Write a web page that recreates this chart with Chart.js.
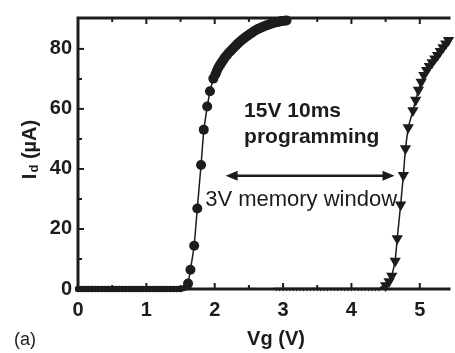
<!DOCTYPE html>
<html>
<head>
<meta charset="utf-8">
<script src="https://cdn.jsdelivr.net/npm/chart.js@4.4.1/dist/chart.umd.min.js"></script>
<style>
  html, body { margin: 0; padding: 0; background: #fff; }
</style>
</head>
<body>
<canvas id="chart" width="455" height="353"></canvas>
<script>
// erased sweep (circles)
const erasedVg = [0.00, 0.05, 0.10, 0.15, 0.20, 0.25, 0.30, 0.35, 0.40, 0.45, 0.50, 0.55, 0.60, 0.65, 0.70, 0.75,
    0.80, 0.85, 0.90, 0.95, 1.00, 1.05, 1.10, 1.15, 1.20, 1.25, 1.30, 1.35, 1.40, 1.45, 1.50, 1.55,
    1.61, 1.645, 1.70, 1.745, 1.80, 1.84, 1.89, 1.93, 1.98,
    2.01, 2.03, 2.05, 2.07, 2.09, 2.11, 2.13, 2.15, 2.18, 2.21, 2.24, 2.27, 2.30, 2.33, 2.36, 2.39,
    2.42, 2.45, 2.48, 2.51, 2.54, 2.57, 2.60, 2.63, 2.66, 2.69, 2.72, 2.75, 2.78, 2.81, 2.84, 2.87,
    2.90, 2.93, 2.96, 2.99, 3.02, 3.05];
const erasedId = [0, 0, 0, 0, 0, 0, 0, 0, 0, 0, 0, 0, 0, 0, 0, 0,
    0, 0, 0, 0, 0, 0, 0, 0, 0, 0, 0, 0, 0, 0, 0, 0.3,
    1.8, 6.4, 14.4, 26.8, 41.3, 53.1, 60.8, 65.9, 70.1,
    71.5, 72.6, 73.6, 74.4, 75.1, 75.8, 76.5, 77.2, 78.0, 78.8, 79.5, 80.2, 80.9, 81.6, 82.2, 82.8,
    83.4, 83.9, 84.4, 84.9, 85.3, 85.8, 86.2, 86.6, 86.9, 87.2, 87.5, 87.8, 88.0, 88.3, 88.5, 88.7,
    88.9, 89.0, 89.2, 89.3, 89.4, 89.5];

// after 15V 10ms programming (triangles)
const progVg = [2.90, 2.95, 3.00, 3.05, 3.10, 3.15, 3.20, 3.25, 3.30, 3.35, 3.40, 3.45, 3.50, 3.55, 3.60,
    3.65, 3.70, 3.75, 3.80, 3.85, 3.90, 3.95, 4.00, 4.05, 4.10, 4.15, 4.20, 4.25, 4.30, 4.35, 4.40,
    4.45, 4.50, 4.55, 4.59, 4.64, 4.67, 4.72, 4.76, 4.79, 4.83,
    4.90, 4.94, 4.98, 5.02, 5.06, 5.10, 5.14, 5.18, 5.22, 5.26, 5.30, 5.34, 5.38, 5.42];
const progId = [0, 0, 0, 0, 0, 0, 0, 0, 0, 0, 0, 0, 0, 0, 0,
    0, 0, 0, 0, 0, 0, 0, 0, 0, 0, 0, 0, 0, 0, 0, 0,
    0.5, 1.2, 2.5, 4.3, 9.3, 16.8, 28.1, 37.9, 46.8, 53.8,
    59.5, 63.0, 66.3, 69.0, 71.2, 72.9, 74.2, 75.5, 76.7, 77.9, 79.2, 80.5, 81.7, 82.9];

// axis ticks
const xTickValues = [0, 1, 2, 3, 4, 5];
const xMinorValues = [0.5, 1.5, 2.5, 3.5, 4.5];
const yTickValues = [0, 20, 40, 60, 80];
const yMinorValues = [10, 30, 50, 70];

// annotation text and where it sits (data units)
const noteTitle = ['15V 10ms', 'programming'];
const noteTitlePos = [[2.43, 57.2], [2.43, 48.6]];
const windowLabel = '3V memory window';
const windowLabelPos = [1.86, 27.7];
const arrowFrom = [2.16, 37.7];
const arrowTo = [4.63, 37.7];

const FONT = "'Liberation Sans', Arial, Helvetica, sans-serif";
const INK = '#1c1c1c';

function toPoints(xs, ys) {
    return xs.map((v, i) => ({x: v, y: ys[i]}));
}

// frame, inward ticks, annotations, axis titles
const decorPlugin = {
    id: 'decor',
    beforeDatasetsDraw(chart) {
        const ctx = chart.ctx;
        const a = chart.chartArea;
        const x = chart.scales.x, y = chart.scales.y;
        ctx.save();
        ctx.strokeStyle = INK;
        ctx.lineWidth = 3;
        ctx.beginPath();
        ctx.moveTo(a.right + 2, a.top);
        ctx.lineTo(a.left, a.top);
        ctx.lineTo(a.left, a.bottom);
        ctx.lineTo(a.right + 2, a.bottom);
        ctx.stroke();

        ctx.lineWidth = 2;
        function seg(x1, y1, x2, y2) {
            ctx.beginPath(); ctx.moveTo(x1, y1); ctx.lineTo(x2, y2); ctx.stroke();
        }
        xTickValues.concat(xMinorValues).forEach(v => {
            const len = xTickValues.includes(v) ? 6 : 4;
            const px = x.getPixelForValue(v);
            seg(px, a.bottom, px, a.bottom - len);
            seg(px, a.top, px, a.top + len);
        });
        yTickValues.concat(yMinorValues).forEach(v => {
            const len = yTickValues.includes(v) ? 6 : 4;
            const py = y.getPixelForValue(v);
            seg(a.left, py, a.left + len, py);
        });
        ctx.restore();
    },
    afterDraw(chart) {
        const ctx = chart.ctx;
        const x = chart.scales.x, y = chart.scales.y;
        ctx.save();
        ctx.fillStyle = INK;
        ctx.strokeStyle = INK;
        ctx.textBaseline = 'alphabetic';

        // programming note
        ctx.font = 'bold 21px ' + FONT;
        ctx.textAlign = 'left';
        noteTitle.forEach((t, i) => {
            ctx.fillText(t, x.getPixelForValue(noteTitlePos[i][0]), y.getPixelForValue(noteTitlePos[i][1]));
        });

        // memory window label
        ctx.font = '22px ' + FONT;
        ctx.fillText(windowLabel, x.getPixelForValue(windowLabelPos[0]), y.getPixelForValue(windowLabelPos[1]));

        // double arrow
        const x1 = x.getPixelForValue(arrowFrom[0]), x2 = x.getPixelForValue(arrowTo[0]);
        const ay = y.getPixelForValue(arrowFrom[1]);
        ctx.lineWidth = 2.5;
        ctx.beginPath(); ctx.moveTo(x1 + 8, ay); ctx.lineTo(x2 - 8, ay); ctx.stroke();
        ctx.beginPath(); ctx.moveTo(x1, ay); ctx.lineTo(x1 + 12, ay - 5); ctx.lineTo(x1 + 12, ay + 5); ctx.closePath(); ctx.fill();
        ctx.beginPath(); ctx.moveTo(x2, ay); ctx.lineTo(x2 - 12, ay - 5); ctx.lineTo(x2 - 12, ay + 5); ctx.closePath(); ctx.fill();

        // x title
        ctx.font = 'bold 20px ' + FONT;
        ctx.textAlign = 'center';
        ctx.fillText('Vg (V)', 276, 345);

        // panel label
        ctx.font = '18px ' + FONT;
        ctx.textAlign = 'left';
        ctx.fillText('(a)', 14, 345);

        // y title with subscript, rotated
        ctx.translate(36, 150);
        ctx.rotate(-Math.PI / 2);
        const big = 'bold 20px ' + FONT, small = 'bold 13px ' + FONT;
        ctx.font = big; const wI = ctx.measureText('I').width;
        ctx.font = small; const wd = ctx.measureText('d').width;
        ctx.font = big; const wU = ctx.measureText(' (\u00b5A)').width;
        let cx = -(wI + wd + wU) / 2;
        ctx.font = big; ctx.fillText('I', cx, 0); cx += wI + 1;
        ctx.font = small; ctx.fillText('d', cx, 2); cx += wd;
        ctx.font = big; ctx.fillText(' (\u00b5A)', cx, 0);
        ctx.restore();
    }
};

const onlyListed = list => scale => {
    scale.ticks = list.map(v => ({value: v}));
};

new Chart(document.getElementById('chart'), {
    type: 'scatter',
    data: {
        datasets: [{
            label: 'erased',
            data: toPoints(erasedVg, erasedId),
            showLine: true,
            borderColor: INK,
            backgroundColor: INK,
            borderWidth: 1.5,
            pointStyle: 'circle',
            pointRadius: c => (c.raw && c.raw.y < 1 ? 3.2 : 5),
            pointBorderWidth: 0,
            clip: false,
        }, {
            label: 'programmed',
            data: toPoints(progVg, progId),
            showLine: true,
            borderColor: INK,
            backgroundColor: INK,
            borderWidth: 1.5,
            pointStyle: 'triangle',
            pointRotation: 180,
            pointRadius: c => (c.raw && c.raw.y < 1 ? 2.5 : 6.5),
            pointBorderWidth: 0,
            clip: false,
        }]
    },
    options: {
        responsive: false,
        animation: false,
        devicePixelRatio: 1,
        layout: { padding: { top: 8, right: 0, left: 0, bottom: 0 } },
        plugins: {
            legend: { display: false },
            tooltip: { enabled: false },
        },
        scales: {
            x: {
                type: 'linear',
                min: 0,
                max: 5.42,
                afterFit(s) { s.height = 64; },
                afterBuildTicks: onlyListed(xTickValues),
                grid: { display: false, drawTicks: false },
                border: { display: false },
                ticks: {
                    padding: 9,
                    color: INK,
                    font: { family: FONT, size: 20, weight: 'bold' },
                },
            },
            y: {
                type: 'linear',
                min: 0,
                max: 90.3,
                afterFit(s) { s.width = 78; },
                afterBuildTicks: onlyListed(yTickValues),
                grid: { display: false, drawTicks: false },
                border: { display: false },
                ticks: {
                    padding: 6,
                    color: INK,
                    font: { family: FONT, size: 20, weight: 'bold' },
                },
            }
        }
    },
    plugins: [decorPlugin]
});
</script>
</body>
</html>
